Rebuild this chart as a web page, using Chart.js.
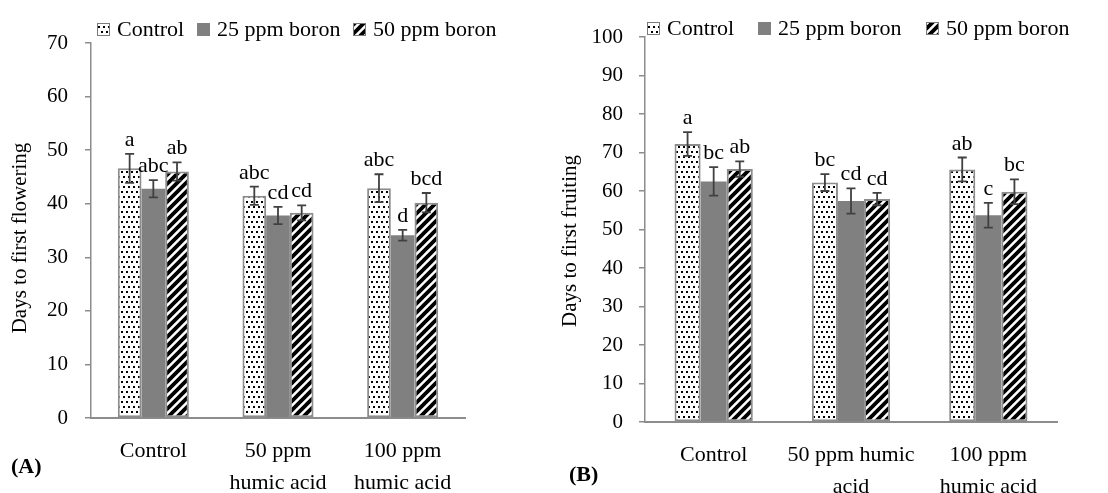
<!DOCTYPE html>
<html>
<head>
<meta charset="utf-8">
<script src="https://cdn.jsdelivr.net/npm/chart.js@4.4.1/dist/chart.umd.min.js"></script>
<style>
  html, body { margin: 0; padding: 0; background: #fff; }
  #wrap { position: relative; width: 1108px; height: 493px; overflow: hidden; }
  canvas { position: absolute; top: 0; }
  #chartA { left: 0; }
  #chartB { left: 550px; }
  .panel { position: absolute; font: bold 22px "Liberation Serif", serif; color: #000; }
</style>
</head>
<body>
<div id="wrap">
  <canvas id="chartA" width="550" height="493"></canvas>
  <canvas id="chartB" width="558" height="493"></canvas>
  <div class="panel" style="left:11px; top:453px;">(A)</div>
  <div class="panel" style="left:569px; top:461px;">(B)</div>
</div>
<script>
// ---- data ----
const seriesNames = ["Control", "25 ppm boron", "50 ppm boron"];

const flowerLabels = ["Control", ["50 ppm", "humic acid"], ["100 ppm", "humic acid"]];
const flowerControl = [46.6, 41.5, 42.9];
const flower25 = [42.8, 37.8, 34.1];
const flower50 = [46.0, 38.3, 40.2];
const flowerControlErr = [2.7, 1.7, 2.6];
const flower25Err = [1.6, 1.6, 1.0];
const flower50Err = [1.7, 1.4, 1.8];
const flowerControlLetters = ["a", "abc", "abc"];
const flower25Letters = ["abc", "cd", "d"];
const flower50Letters = ["ab", "cd", "bcd"];
const flowerTicks = [0, 10, 20, 30, 40, 50, 60, 70];

const fruitLabels = ["Control", ["50 ppm humic", "acid"], ["100 ppm", "humic acid"]];
const fruitControl = [72.2, 62.2, 65.6];
const fruit25 = [62.5, 57.4, 53.7];
const fruit50 = [65.7, 57.9, 59.8];
const fruitControlErr = [3.1, 2.2, 3.1];
const fruit25Err = [3.7, 3.3, 3.2];
const fruit50Err = [2.0, 1.6, 3.2];
const fruitControlLetters = ["a", "bc", "ab"];
const fruit25Letters = ["bc", "cd", "c"];
const fruit50Letters = ["ab", "cd", "bc"];
const fruitTicks = [0, 10, 20, 30, 40, 50, 60, 70, 80, 90, 100];

const FONT = "'Liberation Serif', 'Times New Roman', serif";
const AXIS_GREY = "#8c8c8c";

// ---- fill patterns ----
function dotPattern() {
  const c = document.createElement("canvas");
  c.width = 10; c.height = 10;
  const g = c.getContext("2d");
  g.fillStyle = "#fff"; g.fillRect(0, 0, 10, 10);
  g.fillStyle = "#000";
  g.fillRect(1, 1, 2, 2);
  g.fillRect(6, 1, 2, 2);
  g.fillRect(3, 6, 2, 2);
  g.fillRect(8, 6, 2, 2);
  return g.createPattern(c, "repeat");
}

function hatchPattern() {
  const s = 9;
  const c = document.createElement("canvas");
  c.width = s; c.height = s;
  const g = c.getContext("2d");
  g.fillStyle = "#fff"; g.fillRect(0, 0, s, s);
  g.strokeStyle = "#000";
  g.lineWidth = 3.8;
  g.beginPath();
  g.moveTo(-1, s + 1); g.lineTo(s + 1, -1);
  g.moveTo(-2, 2); g.lineTo(2, -2);
  g.moveTo(s - 2, s + 2); g.lineTo(s + 2, s - 2);
  g.stroke();
  return g.createPattern(c, "repeat");
}

const dots = dotPattern();
const hatch = hatchPattern();

function makeDatasets(values, errs, letters) {
  const fills = [dots, "#808080", hatch];
  const borders = [AXIS_GREY, "#808080", AXIS_GREY];
  return values.map((v, i) => ({
    label: seriesNames[i],
    data: v,
    errors: errs[i],
    letters: letters[i],
    backgroundColor: fills[i],
    borderColor: borders[i],
    borderWidth: i === 1 ? 0 : 2,
    borderSkipped: false,
  }));
}

// error bars and significance letters
const errorBarPlugin = {
  id: "errorBars",
  afterDatasetsDraw(chart) {
    const ctx = chart.ctx;
    const y = chart.scales.y;
    ctx.save();
    chart.data.datasets.forEach((ds, i) => {
      const meta = chart.getDatasetMeta(i);
      meta.data.forEach((bar, j) => {
        const v = ds.data[j];
        const e = ds.errors[j];
        const top = y.getPixelForValue(v + e);
        const bot = y.getPixelForValue(v - e);
        ctx.strokeStyle = "#404040";
        ctx.lineWidth = 1.8;
        ctx.beginPath();
        ctx.moveTo(bar.x, top); ctx.lineTo(bar.x, bot);
        ctx.moveTo(bar.x - 4.5, top); ctx.lineTo(bar.x + 4.5, top);
        ctx.moveTo(bar.x - 4.5, bot); ctx.lineTo(bar.x + 4.5, bot);
        ctx.stroke();
        ctx.fillStyle = "#000";
        ctx.font = "22px " + FONT;
        ctx.textAlign = "center";
        ctx.textBaseline = "alphabetic";
        ctx.fillText(ds.letters[j], bar.x, top - 8);
      });
    });
    ctx.restore();
  },
};

// legend and rotated axis title drawn at fixed spots
const decorPlugin = {
  id: "decor",
  afterDraw(chart, args, opts) {
    const ctx = chart.ctx;
    ctx.save();
    ctx.font = "22px " + FONT;
    ctx.textBaseline = "middle";
    ctx.textAlign = "left";
    chart.data.datasets.forEach((ds, i) => {
      const x = opts.legendXs[i];
      ctx.fillStyle = ds.backgroundColor;
      ctx.fillRect(x, opts.legendY - 6, 13, 13);
      if (ds.borderWidth) {
        ctx.strokeStyle = "#7a7a7a";
        ctx.lineWidth = 1;
        ctx.strokeRect(x + 0.5, opts.legendY - 5.5, 12, 12);
      }
      ctx.fillStyle = "#000";
      ctx.fillText(ds.label, x + 20, opts.legendY + 1);
    });

    ctx.translate(opts.titleX, opts.titleY);
    ctx.rotate(-Math.PI / 2);
    ctx.font = "21px " + FONT;
    ctx.textAlign = "center";
    ctx.fillText(opts.title, 0, 0);
    ctx.restore();
  },
};

function buildChart(id, labels, datasets, ticks, title, box) {
  return new Chart(document.getElementById(id), {
    type: "bar",
    data: { labels, datasets },
    plugins: [errorBarPlugin, decorPlugin],
    options: {
      responsive: false,
      animation: false,
      layout: { padding: { top: box.top, right: box.right, bottom: 0, left: 0 } },
      datasets: { bar: { categoryPercentage: 0.57, barPercentage: 1 } },
      plugins: {
        legend: { display: false },
        tooltip: { enabled: false },
        decor: {
          legendXs: box.legendXs, legendY: box.legendY,
          title: title, titleX: box.titleX, titleY: box.titleY,
        },
      },
      scales: {
        x: {
          grid: { display: false, drawTicks: false },
          border: { display: true, color: AXIS_GREY, width: 2 },
          ticks: { color: "#000", padding: 17, font: { family: FONT, size: 22, lineHeight: 1.45 }, maxRotation: 0, autoSkip: false },
          afterFit(scale) { scale.height = box.xHeight; },
        },
        y: {
          min: ticks[0],
          max: ticks[ticks.length - 1],
          afterBuildTicks(scale) { scale.ticks = ticks.map((v) => ({ value: v })); },
          grid: { drawOnChartArea: false, drawTicks: true, tickLength: 6, color: AXIS_GREY, lineWidth: 1.5 },
          border: { display: true, color: AXIS_GREY, width: 1.5 },
          ticks: { color: "#000", padding: box.tickPad, font: { family: FONT, size: 21 } },
          afterFit(scale) { scale.width = box.yWidth; },
        },
      },
    },
  });
}

buildChart("chartA", flowerLabels,
  makeDatasets([flowerControl, flower25, flower50],
    [flowerControlErr, flower25Err, flower50Err],
    [flowerControlLetters, flower25Letters, flower50Letters]),
  flowerTicks, "Days to first flowering",
  { top: 43, right: 85, yWidth: 91, xHeight: 75, tickPad: 17,
    legendXs: [97, 197, 353], legendY: 29, titleX: 20, titleY: 238 });

buildChart("chartB", fruitLabels,
  makeDatasets([fruitControl, fruit25, fruit50],
    [fruitControlErr, fruit25Err, fruit50Err],
    [fruitControlLetters, fruit25Letters, fruit50Letters]),
  fruitTicks, "Days to first fruiting",
  { top: 37, right: 51, yWidth: 95, xHeight: 71, tickPad: 16,
    legendXs: [97, 208, 376], legendY: 28, titleX: 20, titleY: 241 });
</script>
</body>
</html>
